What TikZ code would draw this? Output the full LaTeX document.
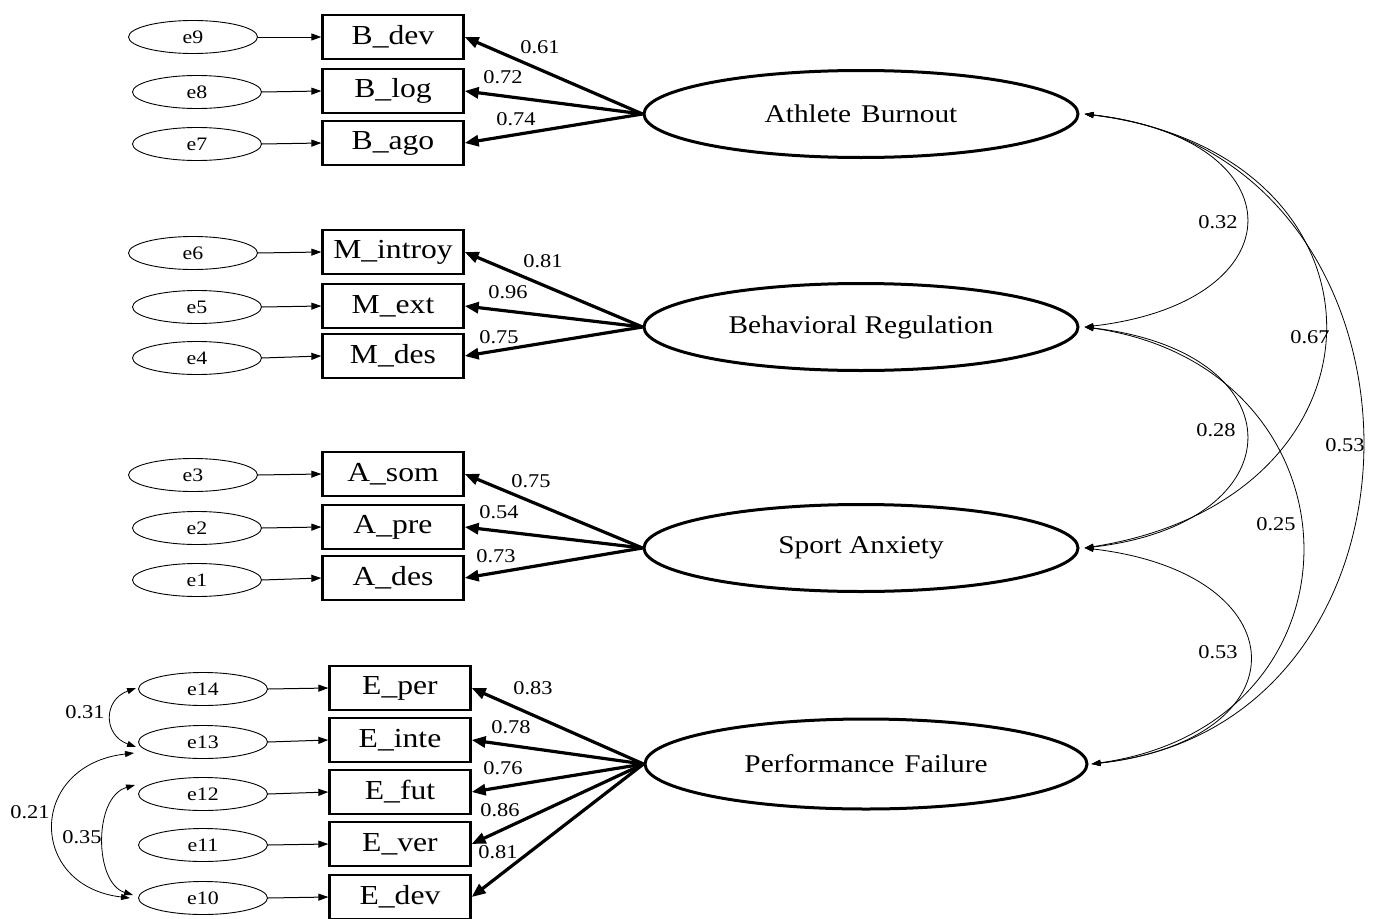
\documentclass[tikz,border=0pt]{standalone}
\usepackage{fontspec}
\setmainfont[FakeStretch=1.15]{Liberation Serif}
\usetikzlibrary{arrows.meta,shapes.geometric}
\begin{document}
\begin{tikzpicture}[x=1pt,y=-1pt,
 errv/.style={draw, line width=0.9pt, ellipse, minimum width=129pt, minimum height=33pt, inner sep=0pt, font=\fontsize{19}{22}\selectfont},
 obs/.style={draw, line width=2.3pt, rectangle, minimum width=141pt, minimum height=44pt, inner sep=0pt, font=\fontsize{27.5}{30}\selectfont},
 lat/.style={draw, line width=3pt, ellipse, minimum width=434pt, minimum height=87pt, inner sep=0pt, font=\fontsize{25.5}{30}\selectfont},
 load/.style={line width=3.2pt, -{Triangle[length=14pt,width=11pt]}},
 err/.style={line width=1pt, -{Triangle[length=10pt,width=7pt]}},
 cov/.style={line width=0.8pt, {Triangle[length=9pt,width=6pt]}-{Triangle[length=9pt,width=6pt]}},
 num/.style={font=\fontsize{19.5}{22}\selectfont, inner sep=1pt}
]
\useasboundingbox[fill=white] (0,0) rectangle (1381,918);

% latent variables
\node[lat] (AB) at (861,114) {Athlete\hspace{0.4em}Burnout};
\node[lat] (BR) at (861,327) {Behavioral Regulation};
\node[lat] (SA) at (861,548) {Sport Anxiety};
\node[lat, minimum width=442pt, minimum height=90pt] (PF) at (866,764) {Performance\hspace{0.4em}Failure};

% observed
\node[obs] (Bdev) at (393,37) {B\_dev};
\node[obs] (Blog) at (393,91) {B\_log};
\node[obs] (Bago) at (393,143) {B\_ago};
\node[obs] (Mintroy) at (393,252) {M\_introy};
\node[obs] (Mext) at (393,306) {M\_ext};
\node[obs] (Mdes) at (393,356) {M\_des};
\node[obs] (Asom) at (393,474) {A\_som};
\node[obs] (Apre) at (393,527) {A\_pre};
\node[obs] (Ades) at (393,578) {A\_des};
\node[obs] (Eper) at (400,688) {E\_per};
\node[obs] (Einte) at (400,740) {E\_inte};
\node[obs] (Efut) at (400,792) {E\_fut};
\node[obs] (Ever) at (400,844) {E\_ver};
\node[obs] (Edev) at (400,897) {E\_dev};

% errors
\node[errv] (e9) at (193,37) {e9};
\node[errv] (e8) at (197,92) {e8};
\node[errv] (e7) at (197,144) {e7};
\node[errv] (e6) at (193,253) {e6};
\node[errv] (e5) at (197,307) {e5};
\node[errv] (e4) at (197,358) {e4};
\node[errv] (e3) at (193,475) {e3};
\node[errv] (e2) at (197,528) {e2};
\node[errv] (e1) at (197,580) {e1};
\node[errv] (e14) at (203,689) {e14};
\node[errv] (e13) at (203,742) {e13};
\node[errv] (e12) at (203,794) {e12};
\node[errv] (e11) at (203,845) {e11};
\node[errv] (e10) at (203,898) {e10};

% error arrows
\foreach \e/\o in {e9/Bdev,e8/Blog,e7/Bago,e6/Mintroy,e5/Mext,e4/Mdes,e3/Asom,e2/Apre,e1/Ades,e14/Eper,e13/Einte,e12/Efut,e11/Ever,e10/Edev}
  \draw[err] (\e.east) -- (\o.west);

% loadings
\foreach \o in {Bdev,Blog,Bago} \draw[load] (AB.west) -- (\o.east);
\foreach \o in {Mintroy,Mext,Mdes} \draw[load] (BR.west) -- (\o.east);
\foreach \o in {Asom,Apre,Ades} \draw[load] (SA.west) -- (\o.east);
\foreach \o in {Eper,Einte,Efut,Ever,Edev} \draw[load] (PF.west) -- (\o.east);

% loading labels
\node[num] (l1) at (540,47) {0.61};
\node[num] (l2) at (503,77) {0.72};
\node[num] (l3) at (516,119) {0.74};
\node[num] (l4) at (543,261) {0.81};
\node[num] (l5) at (508,292) {0.96};
\node[num] (l6) at (499,337) {0.75};
\node[num] (l7) at (531,481) {0.75};
\node[num] (l8) at (499,512) {0.54};
\node[num] (l9) at (496,556) {0.73};
\node[num] (l10) at (533,688) {0.83};
\node[num] (l11) at (511,727) {0.78};
\node[num] (l12) at (503,768) {0.76};
\node[num] (l13) at (500,810) {0.86};
\node[num] (l14) at (498,852) {0.81};

% right covariances
\coordinate (ABr) at ([xshift=5pt]AB.east);
\coordinate (BRr) at ([xshift=5pt]BR.east);
\coordinate (SAr) at ([xshift=5pt]SA.east);
\coordinate (PFr) at ([xshift=3pt]PF.east);
\draw[cov] (ABr) .. controls +(215,25) and +(215,-25) .. (BRr);
\draw[cov] (ABr) .. controls +(320,40) and +(320,-50) .. (SAr);
\draw[cov] (ABr) .. controls +(365,40) and +(365,-40) .. (PFr);
\draw[cov] (BRr) .. controls +(215,25) and +(215,-25) .. (SAr);
\draw[cov] (BRr) .. controls +(285,40) and +(285,-40) .. (PFr);
\draw[cov] (SAr) .. controls +(215,25) and +(215,-25) .. (PFr);

\node[num] (c1) at (1218,222) {0.32};
\node[num] (c2) at (1310,337) {0.67};
\node[num] (c3) at (1345,445) {0.53};
\node[num] (c4) at (1216,430) {0.28};
\node[num] (c5) at (1276,524) {0.25};
\node[num] (c6) at (1218,652) {0.53};

% left covariances
\draw[cov] ([xshift=-2pt,yshift=1pt]e14.west) .. controls +(-33,12) and +(-33,-12) .. ([xshift=-2pt,yshift=-5pt]e13.west);
\draw[cov] ([xshift=-4pt,yshift=-11pt]e13.west) .. controls +(-106,12) and +(-103,-12) .. ([xshift=-8pt]e10.west);
\draw[cov] ([xshift=-3pt,yshift=9pt]e12.west) .. controls +(-42,12) and +(-39,-12) .. ([xshift=-5pt,yshift=3pt]e10.west);

\node[num] (c7) at (85,712) {0.31};
\node[num] (c8) at (30,812) {0.21};
\node[num] (c9) at (82,837) {0.35};
\end{tikzpicture}
\end{document}
